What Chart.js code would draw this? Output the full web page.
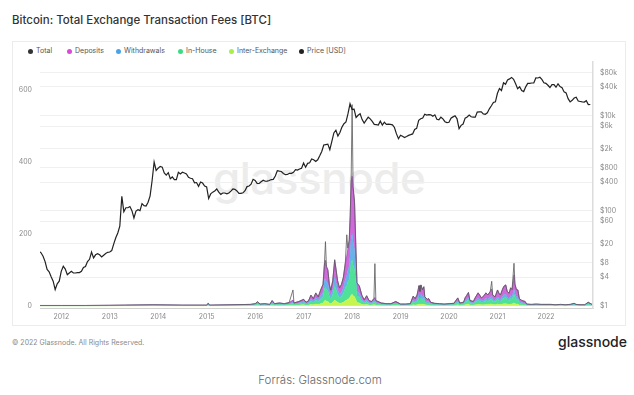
<!DOCTYPE html>
<html lang="en">
<head>
  <meta charset="UTF-8" />
  <title>Bitcoin: Total Exchange Transaction Fees [BTC]</title>
  <script src="https://cdn.jsdelivr.net/npm/chart.js"></script>
  <style>
    * {
      box-sizing: border-box;
    }

    body {
      margin: 0;
      width: 634px;
      height: 395px;
      background: #fff;
      font-family: Inter, 'Noto Sans', sans-serif;
      position: relative;
      overflow: hidden;
    }

    .title {
      position: absolute;
      left: 12px;
      top: 13px;
      font-size: 11.5px;
      font-weight: 500;
      color: #333;
      white-space: nowrap;
    }

    .frame {
      position: absolute;
      left: 12px;
      top: 41px;
      width: 614px;
      height: 285px;
      border: 1px solid #ececec;
    }

    .watermark {
      position: absolute;
      left: 213px;
      top: 151px;
      font-size: 44px;
      font-weight: 500;
      color: #ececec;
      letter-spacing: -0.5px;
    }

    canvas {
      position: absolute;
      left: 12px;
      top: 41px;
    }

    .legend span {
      position: absolute;
      top: 46px;
      font-size: 7px;
      color: #555;
      white-space: nowrap;
    }

    .legend i {
      display: inline-block;
      width: 5px;
      height: 5px;
      border-radius: 50%;
      margin-right: 3px;
      vertical-align: -0.5px;
    }

    .copy {
      position: absolute;
      left: 12px;
      top: 338px;
      font-size: 7px;
      color: #8a8a8a;
    }

    .logo {
      position: absolute;
      left: 558px;
      top: 333px;
      font-size: 14px;
      font-weight: 500;
      color: #222;
    }

    .source {
      position: absolute;
      left: 0;
      width: 640px;
      top: 373px;
      text-align: center;
      font-size: 11.5px;
      font-weight: 300;
      color: #666;
    }
  </style>
</head>
<body>
  <div class="title">Bitcoin: Total Exchange Transaction Fees [BTC]</div>
  <div class="frame"></div>
  <div class="watermark">glassnode</div>
  <div class="legend">
    <span style="left:28px"><i style="background:#333"></i>Total</span>
    <span style="left:67px"><i style="background:#d94ad9"></i>Deposits</span>
    <span style="left:116px"><i style="background:#4aa3e8"></i>Withdrawals</span>
    <span style="left:178px"><i style="background:#3ddc84"></i>In-House</span>
    <span style="left:229px"><i style="background:#a6f04a"></i>Inter-Exchange</span>
    <span style="left:299px"><i style="background:#222"></i>Price [USD]</span>
  </div>
  <canvas id="chart" width="614" height="285"></canvas>
  <div class="copy">© 2022 Glassnode. All Rights Reserved.</div>
  <div class="logo">glassnode</div>
  <div class="source">Forrás: Glassnode.com</div>

  <script>
    // fee sample dates (decimal years) and values in BTC
    const feeYears = [
      2011.56, 2012.0, 2012.5, 2013.0, 2013.3, 2013.9, 2014.5, 2015.0, 2015.03, 2015.06,
      2015.5, 2015.9, 2016.0, 2016.05, 2016.1, 2016.2, 2016.3, 2016.35, 2016.4, 2016.5,
      2016.6, 2016.7, 2016.78, 2016.8, 2016.9, 2017.0, 2017.05, 2017.1, 2017.15, 2017.2,
      2017.25, 2017.3, 2017.35, 2017.4, 2017.43, 2017.45, 2017.47, 2017.5, 2017.53, 2017.56,
      2017.6, 2017.64, 2017.67, 2017.7, 2017.74, 2017.78, 2017.82, 2017.86, 2017.89, 2017.91,
      2017.94, 2017.96, 2017.98, 2018.0, 2018.02, 2018.05, 2018.08, 2018.1, 2018.15, 2018.2,
      2018.25, 2018.3, 2018.35, 2018.4, 2018.45, 2018.47, 2018.49, 2018.6, 2018.7, 2018.8,
      2018.9, 2019.0, 2019.1, 2019.2, 2019.26, 2019.3, 2019.34, 2019.38, 2019.4, 2019.42,
      2019.45, 2019.48, 2019.5, 2019.55, 2019.58, 2019.62, 2019.7, 2019.8, 2019.9, 2020.0,
      2020.1, 2020.18, 2020.22, 2020.3, 2020.33, 2020.36, 2020.4, 2020.43, 2020.5, 2020.55,
      2020.6, 2020.63, 2020.67, 2020.72, 2020.76, 2020.8, 2020.85, 2020.88, 2020.9, 2020.95,
      2021.0, 2021.03, 2021.06, 2021.1, 2021.13, 2021.17, 2021.2, 2021.24, 2021.27, 2021.3,
      2021.34, 2021.36, 2021.39, 2021.42, 2021.45, 2021.5, 2021.57, 2021.6, 2021.7, 2021.8,
      2021.9, 2022.0, 2022.1, 2022.2, 2022.3, 2022.4, 2022.5, 2022.58, 2022.62, 2022.7,
      2022.8, 2022.87, 2022.95
    ];

    const feeTotal = [
      1, 1, 1, 1.5, 2, 3, 2, 2, 8, 2,
      3, 4, 6, 12, 5, 6, 4, 15, 6, 8,
      6, 9, 44, 8, 12, 18, 10, 14, 30, 20,
      36, 25, 44, 60, 120, 178, 110, 100, 60, 44,
      70, 128, 100, 70, 50, 60, 80, 120, 197, 160,
      183, 250, 350, 558, 330, 290, 150, 64, 55, 30,
      17, 28, 15, 12, 20, 117, 15, 8, 6, 6,
      12, 5, 5, 6, 27, 20, 30, 56, 40, 58,
      45, 53, 25, 18, 20, 10, 7, 6, 5, 6,
      7, 22, 8, 10, 22, 28, 37, 15, 12, 25,
      36, 30, 22, 28, 36, 30, 40, 68, 30, 25,
      44, 35, 30, 45, 54, 58, 40, 35, 50, 45,
      118, 60, 45, 44, 20, 15, 12, 5, 4, 5,
      4, 4, 4, 3, 4, 3, 4, 7, 4, 3,
      3, 10, 4
    ];

    const feeInterExchange = [
      .2, .2, .2, .3, .4, .5, .4, .4, 1, .4,
      .5, .6, 1, 1.5, .8, 1, .6, 2, 1, 1.2,
      1, 1.5, 2, 1.2, 2, 3, 1.5, 2, 4, 3,
      5, 4, 6, 8, 14, 15, 13, 12, 8, 6,
      10, 16, 13, 10, 7, 8, 10, 14, 16, 18,
      20, 25, 30, 32, 28, 25, 16, 9, 8, 4,
      3, 4, 2, 2, 3, 3, 2, 1.2, 1, 1,
      2, .8, .8, 1, 3, 2, 3, 5, 4, 5,
      4, 5, 3, 2, 2, 1.2, 1, 1, .8, 1,
      1, 3, 1.2, 1.5, 3, 4, 5, 2, 2, 3,
      4, 4, 3, 3, 4, 4, 5, 5, 4, 3,
      5, 4, 4, 5, 6, 6, 5, 4, 5, 5,
      8, 6, 5, 5, 2, 2, 1.5, .8, .6, .8,
      .6, .6, .6, .5, .6, .5, .6, 1, .6, .5,
      .5, 1.2, .6
    ];

    const feeInHouse = [
      .3, .3, .3, .4, .6, .9, .6, .6, 2, .6,
      .9, 1.2, 1.8, 3, 1.5, 1.8, 1.2, 4, 1.8, 2.4,
      1.8, 2.7, 5, 2.4, 3.6, 5.5, 3, 4, 9, 6,
      11, 8, 13, 18, 34, 36, 32, 30, 18, 13,
      21, 38, 30, 21, 15, 18, 24, 36, 40, 48,
      54, 70, 90, 95, 85, 75, 44, 19, 16, 9,
      5, 8, 4, 3.6, 6, 7, 4, 2.4, 1.8, 1.8,
      3.6, 1.5, 1.5, 1.8, 8, 6, 9, 17, 12, 17,
      13, 16, 7, 5, 6, 3, 2, 1.8, 1.5, 1.8,
      2, 7, 2.4, 3, 7, 9, 12, 5, 4, 8,
      11, 9, 7, 8, 11, 9, 12, 14, 9, 8,
      13, 10, 9, 13, 16, 17, 12, 10, 15, 13,
      24, 18, 13, 13, 6, 4, 3.5, 1.5, 1.2, 1.5,
      1.2, 1.2, 1.2, .9, 1.2, .9, 1.2, 2, 1.2, .9,
      .9, 3, 1.2
    ];

    const feeWithdrawals = [
      .2, .2, .2, .3, .4, .6, .4, .4, 1, .4,
      .6, .8, 1.2, 2, 1, 1.2, .8, 3, 1.2, 1.6,
      1.2, 1.8, 3, 1.6, 2.4, 3.5, 2, 3, 6, 4,
      7, 5, 9, 12, 24, 25, 22, 20, 12, 9,
      14, 26, 20, 14, 10, 12, 16, 24, 28, 32,
      36, 50, 70, 72, 65, 55, 30, 13, 11, 6,
      3, 6, 3, 2.4, 4, 5, 3, 1.6, 1.2, 1.2,
      2.4, 1, 1, 1.2, 5, 4, 6, 10, 8, 11,
      9, 10, 5, 4, 4, 2, 1.4, 1.2, 1, 1.2,
      1.4, 4, 1.6, 2, 4, 5, 6, 3, 2, 5,
      6, 5, 4, 5, 6, 5, 7, 8, 5, 4,
      7, 6, 5, 8, 9, 10, 7, 6, 9, 8,
      14, 10, 8, 7, 4, 3, 2.5, 1, .8, 1,
      .8, .8, .8, .6, .8, .6, .8, 1.4, .8, .6,
      .6, 2, .8
    ];

    const feeDeposits = [
      .3, .3, .3, .5, .6, 1, .6, .6, 2, .6,
      1, 1.4, 2, 4, 1.7, 2, 1.4, 5, 2, 2.8,
      2, 3, 6, 2.8, 4, 6, 3.5, 5, 10, 7,
      12, 8, 15, 21, 44, 50, 40, 36, 21, 15,
      24, 46, 36, 24, 17, 21, 28, 44, 54, 58,
      68, 100, 155, 160, 150, 130, 58, 22, 19, 10,
      6, 10, 5, 4, 7, 8, 5, 2.8, 2, 2,
      4, 1.7, 1.7, 2, 11, 8, 12, 24, 16, 25,
      19, 22, 10, 7, 8, 3.8, 2.6, 2, 1.7, 2,
      2.6, 8, 2.8, 3.5, 8, 10, 14, 5, 4, 9,
      15, 12, 8, 12, 15, 12, 16, 20, 12, 10,
      19, 15, 12, 19, 23, 25, 16, 15, 21, 19,
      40, 26, 19, 19, 8, 6, 4.5, 1.7, 1.4, 1.7,
      1.4, 1.4, 1.4, 1, 1.4, 1, 1.4, 2.6, 1.4, 1,
      1, 3.8, 1.4
    ];

    // BTC price in USD, twice a month (1st and 15th) from mid-July 2011
    const priceStart = 2011.54;
    const priceUsd = [
      14, 13, 11, 8.5, 5.8, 5.2, 4.1, 3.3, 2.2, 2.9, 3.3,
      5.3, 6.8, 5.9, 4.5, 4.9, 5.3, 4.9, 4.9, 5.0, 5.0, 5.3, 6.4, 6.7, 8.5, 9.5, 13.5, 10.2, 11.8, 12.4, 11.8, 10.7, 11.6, 12.6, 13.3,
      13.5, 14.5, 20, 27, 34, 47, 200, 95, 115, 115, 122, 100, 70, 98, 105, 100, 140, 127, 125, 150, 205, 430, 1050, 700,
      780, 850, 820, 620, 560, 630, 470, 510, 450, 450, 640, 590, 640, 620, 590, 500, 480, 470, 385, 390, 325, 400, 380, 330,
      315, 180, 225, 245, 260, 285, 245, 220, 235, 235, 225, 235, 258, 285, 280, 260, 230, 230, 237, 262, 320, 330, 360, 455,
      430, 375, 372, 405, 435, 415, 417, 430, 450, 455, 535, 690, 675, 665, 605, 570, 575, 608, 610, 640, 730, 710, 750, 780,
      1000, 820, 985, 1010, 1220, 1170, 1080, 1170, 1420, 1750, 2400, 2450, 2500, 1920, 2870, 4300, 4900, 3700, 4400, 5700, 6700, 7300, 10900, 17600,
      13500, 13600, 9100, 10100, 10900, 8200, 6900, 8000, 9200, 8500, 7500, 6500, 6400, 6300, 7600, 6300, 7200, 6500, 6600, 6500, 6350, 5600, 4100, 3250,
      3850, 3650, 3450, 3620, 3820, 3950, 4100, 5100, 5350, 7900, 8550, 8800, 10600, 10200, 10400, 10300, 9600, 10300, 8300, 8100, 9200, 8500, 7400, 7100,
      7200, 8800, 9350, 9900, 8500, 5300, 6200, 6600, 8800, 9300, 10200, 9400, 9200, 9200, 11800, 11900, 11900, 10800, 10600, 11400, 13800, 16000, 18800, 19400,
      29300, 36800, 33500, 48700, 45200, 56000, 58800, 63100, 57700, 46500, 36700, 40200, 33500, 31800, 39900, 47100, 47100, 48100, 48200, 61600, 61300, 63600, 57200, 48800,
      47300, 43100, 38700, 44500, 44400, 39300, 46300, 40500, 38500, 31300, 29800, 22600, 19300, 20800, 23300, 24100, 20100, 19700, 19300, 19100, 20500, 16900, 17000
    ];

    const yearTicks = [2012, 2013, 2014, 2015, 2016, 2017, 2018, 2019, 2020, 2021, 2022];
    const feeTicks = [0, 200, 400, 600];
    const priceTicks = [1, 4, 8, 20, 60, 100, 400, 800, 2000, 6000, 10000, 40000, 80000];

    const pts = (xs, ys) => xs.map((x, i) => ({ x: x, y: ys[i] }));
    const priceYears = priceUsd.map((_, i) => priceStart + i / 24);

    Chart.defaults.font.family = "Inter, 'Noto Sans', sans-serif";
    const tickFont = { size: 7 };

    function feeArea(label, values, color, fill) {
      return {
        label: label,
        data: pts(feeYears, values),
        yAxisID: 'yFee',
        stack: 'fees',
        order: 2,
        fill: fill,
        backgroundColor: color,
        borderColor: color,
        borderWidth: 0.5,
        pointRadius: 0
      };
    }

    new Chart(document.getElementById('chart'), {
      type: 'line',
      data: {
        datasets: [
          feeArea('Inter-Exchange', feeInterExchange, 'rgba(196,244,70,0.95)', 'origin'),
          feeArea('In-House', feeInHouse, 'rgba(60,222,140,0.9)', '-1'),
          feeArea('Withdrawals', feeWithdrawals, 'rgba(78,165,230,0.85)', '-1'),
          Object.assign(feeArea('Deposits', feeDeposits, 'rgba(200,80,212,0.85)', '-1'), { borderColor: '#9c3fb4', borderWidth: 0.7 }),
          {
            label: 'Total',
            data: pts(feeYears, feeTotal),
            yAxisID: 'yFee',
            stack: 'total',
            order: 1,
            fill: false,
            borderColor: '#5a5a5a',
            borderWidth: 0.8,
            pointRadius: 0
          },
          {
            label: 'Price [USD]',
            data: pts(priceYears, priceUsd),
            yAxisID: 'yPrice',
            order: 0,
            fill: false,
            borderColor: '#222',
            borderWidth: 1.2,
            pointRadius: 0
          }
        ]
      },
      options: {
        responsive: false,
        animation: false,
        devicePixelRatio: 1,
        layout: { padding: { top: 21, left: 0, right: 0, bottom: 0 } },
        plugins: {
          legend: { display: false },
          tooltip: { enabled: false }
        },
        scales: {
          x: {
            type: 'linear',
            min: 2011.56,
            max: 2022.97,
            afterBuildTicks: s => { s.ticks = yearTicks.map(v => ({ value: v })); },
            afterFit: s => { s.height = 18; },
            grid: { display: false, drawTicks: false },
            border: { display: true, color: '#d0d0d0' },
            ticks: { font: tickFont, color: '#8a8a8a', padding: 5, autoSkip: false, maxRotation: 0, callback: v => String(v) }
          },
          yFee: {
            type: 'linear',
            position: 'left',
            stacked: true,
            min: -6,
            max: 676,
            afterBuildTicks: s => { s.ticks = feeTicks.map(v => ({ value: v })); },
            afterFit: s => { s.width = 28; },
            grid: { display: false, drawTicks: false },
            border: { display: false },
            ticks: { font: tickFont, color: '#8a8a8a', padding: 8 }
          },
          yPrice: {
            type: 'logarithmic',
            position: 'right',
            min: 0.9,
            max: 133000,
            afterBuildTicks: s => { s.ticks = priceTicks.map(v => ({ value: v })); },
            afterFit: s => { s.width = 33; },
            grid: { color: '#f0f0f0', drawTicks: false },
            border: { display: true, color: '#dcdcdc', width: 1.5 },
            ticks: {
              font: tickFont,
              color: '#8a8a8a',
              padding: 7,
              autoSkip: false,
              callback: v => '$' + (v >= 1000 ? (v / 1000) + 'k' : v)
            }
          }
        }
      }
    });
  </script>
</body>
</html>
